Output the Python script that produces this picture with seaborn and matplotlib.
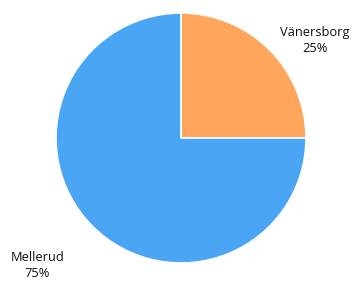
import matplotlib
matplotlib.use("Agg")
import matplotlib.pyplot as plt
import seaborn as sns

# data
towns = ["Vänersborg", "Mellerud"]
shares = [25, 75]
colors = ["#FFA55C", "#4AA6F5"]

sns.set_theme(style="white")
plt.rcParams["font.family"] = ["Open Sans", "DejaVu Sans"]

fig = plt.figure(figsize=(3.55, 2.81), dpi=100)
cx, cy, r = 181, 138, 125
ax = fig.add_axes([(cx - r) / 355, (281 - cy - r) / 281, 2 * r / 355, 2 * r / 281])

ax.pie(shares, colors=colors, startangle=90, counterclock=False,
       radius=1, wedgeprops=dict(edgecolor="white", linewidth=1.2))
ax.set_xlim(-1, 1)
ax.set_ylim(-1, 1)
ax.set_aspect("equal")
ax.axis("off")

label_pos = {"Vänersborg": (1.07, 0.78), "Mellerud": (-1.15, -1.02)}
for name, val in zip(towns, shares):
    x, y = label_pos[name]
    ax.text(x, y, f"{name}\n{val}%", ha="center", va="center",
            fontsize=9.3, color="#111111", linespacing=1.3, clip_on=False)

fig.savefig("out.png", dpi=100)
